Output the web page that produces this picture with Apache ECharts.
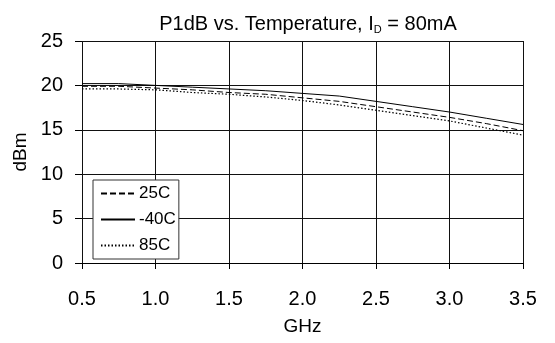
<!DOCTYPE html>
<html><head><meta charset="utf-8">
<script src="https://cdn.jsdelivr.net/npm/echarts@6/dist/echarts.min.js"></script>
<style>html,body{margin:0;padding:0;background:#fff}#c{width:555px;height:343px}</style>
</head><body><div id="c"></div>
<script>
var freqs = [0.5,0.75,1.0,1.25,1.5,1.75,2.0,2.25,2.5,2.75,3.0,3.25,3.5];
var t25 = [19.9,19.9,19.7,19.5,19.2,19.0,18.6,18.2,17.6,17.0,16.4,15.7,14.9];
var tm40 = [20.2,20.2,20.0,19.8,19.6,19.4,19.1,18.8,18.2,17.6,17.0,16.3,15.6];
var t85 = [19.6,19.6,19.5,19.2,19.0,18.7,18.3,17.8,17.2,16.6,16.0,15.2,14.4];
var names = ['25C','-40C','85C'];
var xTicks = ['0.5','1.0','1.5','2.0','2.5','3.0','3.5'];
var yTicks = ['0','5','10','15','20','25'];

function pairs(v){return freqs.map(function(f,i){return [f,v[i]];});}
var font = 'Liberation Sans, Arial, sans-serif';
var chart = echarts.init(document.getElementById('c'));
chart.setOption({
  animation:false,
  title:{text:'P1dB vs. Temperature, I{sub|D} = 80mA',left:303,top:8,textAlign:'center',
    textStyle:{fontFamily:font,fontSize:20,fontWeight:'normal',color:'#000',
      rich:{sub:{fontFamily:font,fontSize:11,color:'#000',verticalAlign:'bottom',padding:[11,0,0,0]}}}},
  grid:{left:82,right:32,top:41,bottom:80},
  legend:{orient:'vertical',left:93,top:180,width:87,itemWidth:34,itemHeight:17,itemGap:9,
    padding:[5,3,5,7],borderColor:'#333',borderWidth:1,backgroundColor:'#fff',
    itemStyle:{color:'transparent',borderWidth:0,opacity:0},
    textStyle:{fontFamily:font,fontSize:17,color:'#000',padding:[0,0,0,-1]},
    data:names},
  xAxis:{type:'value',min:0.5,max:3.5,interval:0.5,name:'GHz',nameLocation:'middle',nameGap:54,
    nameTextStyle:{fontFamily:font,fontSize:19,color:'#000'},
    axisLine:{lineStyle:{color:'#000',width:1}},
    axisTick:{show:true,length:6,inside:false,lineStyle:{color:'#000'}},
    axisLabel:{fontFamily:font,fontSize:20,color:'#000',margin:26,
      formatter:function(v){var i=Math.round((v-0.5)/0.5);return xTicks[i]!==undefined?xTicks[i]:'';}},
    splitLine:{show:true,lineStyle:{color:'#111',width:1}}},
  yAxis:{type:'value',min:0,max:25,interval:5,name:'dBm',nameLocation:'middle',nameGap:52,
    nameTextStyle:{fontFamily:font,fontSize:19,color:'#000'},
    axisLine:{show:false},
    axisTick:{show:true,length:7,lineStyle:{color:'#000'}},
    axisLabel:{fontFamily:font,fontSize:20,color:'#000',margin:19,
      formatter:function(v){var i=Math.round(v/5);return yTicks[i]!==undefined?yTicks[i]:'';}},
    splitLine:{show:true,lineStyle:{color:'#111',width:1}}},
  series:[
    {name:names[0],type:'line',data:pairs(t25),symbol:'none',lineStyle:{color:'#000',width:1,type:[6,3]},itemStyle:{color:'#000'}},
    {name:names[1],type:'line',data:pairs(tm40),symbol:'none',lineStyle:{color:'#000',width:1,type:'solid'},itemStyle:{color:'#000'}},
    {name:names[2],type:'line',data:pairs(t85),symbol:'none',lineStyle:{color:'#000',width:1.2,type:[1.5,2]},itemStyle:{color:'#000'}}
  ]
});
</script></body></html>
